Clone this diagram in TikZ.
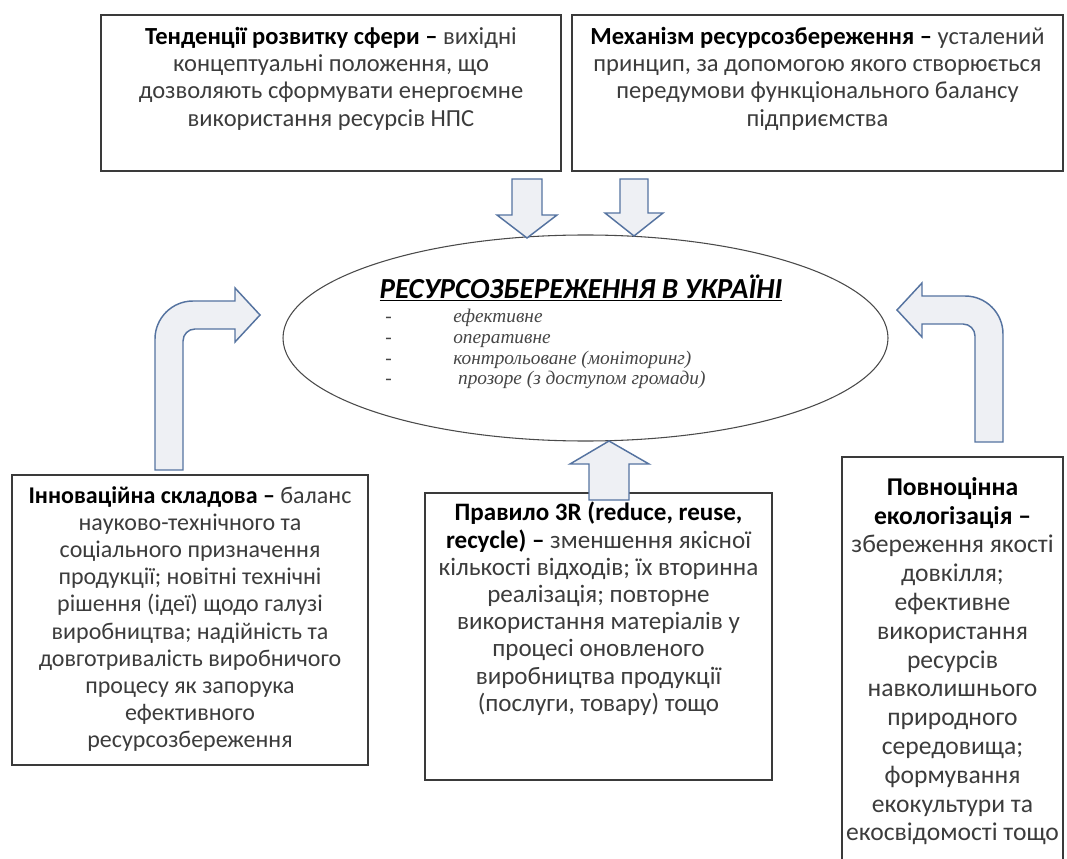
\documentclass[tikz,border=0pt]{standalone}
\usepackage{fontspec}
\setmainfont{Carlito}
\newfontfamily\listfont{Liberation Serif}
\usetikzlibrary{shapes.geometric,calc}
\definecolor{boxline}{HTML}{3A3A3A}
\definecolor{ovalline}{HTML}{4A4A4A}
\definecolor{arrowline}{HTML}{5573A0}
\definecolor{arrowfill}{HTML}{EEF0F4}
\definecolor{bodytext}{HTML}{3C3C3C}
\definecolor{listtext}{HTML}{454545}
\newcommand\keyterm[1]{{\bfseries\color{black}#1}}
\newcommand\listitem[1]{\makebox[51pt][l]{-}\textit{#1}}

\begin{document}
\begin{tikzpicture}[x=0.75pt,y=-0.75pt,
 frame/.style={draw=boxline, line width=1.5pt, rectangle, inner sep=0pt},
 txt/.style={anchor=north, align=center, inner sep=0pt, text=bodytext, font=\fontsize{#1}{20.4}\selectfont},
 txt/.default=18.4,
 blockarrow/.style={draw=arrowline, fill=arrowfill, line width=1.1pt, line join=miter}]
\clip (0,0) rectangle (1067,859);

\draw
(331,93) node[frame, minimum width=345pt, minimum height=117pt](tend){}
(817.5,93) node[frame, minimum width=368.25pt, minimum height=117pt](mech){}
(190,620) node[frame, minimum width=267pt, minimum height=217.5pt](innov){}
(598.5,636.5) node[frame, minimum width=260.25pt, minimum height=215.25pt](rule){}
(952.5,681) node[frame, minimum width=165.75pt, minimum height=336pt](eco){};

\node[txt] (tendtxt) at ($(tend.north)+(0,13)$) {\keyterm{Тенденції розвитку сфери –} вихідні\\концептуальні положення, що\\дозволяють сформувати енергоємне\\використання ресурсів НПС};
\node[txt] (mechtxt) at ($(mech.north)+(0,13)$) {\keyterm{Механізм ресурсозбереження –} усталений\\принцип, за допомогою якого створюється\\передумови функціонального балансу\\підприємства};
\node[txt=18] (innovtxt) at ($(innov.north)+(0,12)$) {\keyterm{Інноваційна складова –} баланс\\науково-технічного та\\соціального призначення\\продукції; новітні технічні\\рішення (ідеї) щодо галузі\\виробництва; надійність та\\довготривалість виробничого\\процесу як запорука\\ефективного\\ресурсозбереження};
\node[txt=18.8] (ruletxt) at ($(rule.north)+(0,10)$) {\keyterm{Правило 3R (reduce, reuse,}\\\keyterm{recycle) –} зменшення якісної\\кількості відходів; їх вторинна\\реалізація; повторне\\використання матеріалів у\\процесі оновленого\\виробництва продукції\\(послуги, товару) тощо};
\node[txt, font=\fontsize{19.2}{21.6}\selectfont] (ecotxt) at ($(eco.north)+(0,21)$) {\keyterm{Повноцінна}\\\keyterm{екологізація –}\\збереження якості\\довкілля;\\ефективне\\використання\\ресурсів\\навколишнього\\природного\\середовища;\\формування\\екокультури та\\екосвідомості тощо};

\node[ellipse, draw=ovalline, line width=0.8pt, minimum width=453.75pt, minimum height=154.5pt, inner sep=0pt] (res) at (585.5,338) {};
\node[inner sep=0pt, font=\fontsize{21.8}{24}\selectfont\bfseries\itshape] (restitle) at (581,288) {\underline{РЕСУРСОЗБЕРЕЖЕННЯ В УКРАЇНІ}};
\node[anchor=west, align=left, inner sep=0pt, text=listtext, font=\listfont\fontsize{14.5}{15.6}\selectfont] (reslist) at (385,349)
 {\listitem{ефективне}\\\listitem{оперативне}\\\listitem{контрольоване (моніторинг)}\\\listitem{\ прозоре (з доступом громади)}};

\draw[blockarrow] (512,179) -- (542,179) -- (542,215) -- (557,215) -- (527,238) -- (497,215) -- (512,215) -- cycle;
\draw[blockarrow] (620,179) -- (648,179) -- (648,213) -- (663,213) -- (634,236) -- (605,213) -- (620,213) -- cycle;
\draw[blockarrow] (589,500) -- (589,464) -- (570,464) -- (609,441) -- (649,464) -- (629,464) -- (629,500) -- cycle;

\draw[blockarrow] (155,470) -- (155,339) .. controls (155,318) and (172,301) .. (193,301) -- (235,301) -- (235,288) -- (260,315) -- (235,342) -- (235,329) -- (195,329) .. controls (188.4,329) and (183,334.4) .. (183,341) -- (183,470) -- cycle;
\draw[blockarrow] (1003,442) -- (1003,334) .. controls (1003,313) and (986,296) .. (965,296) -- (922,296) -- (922,283) -- (897,310) -- (922,337) -- (922,324) -- (963,324) .. controls (969.6,324) and (975,329.4) .. (975,336) -- (975,442) -- cycle;

\end{tikzpicture}
\end{document}
